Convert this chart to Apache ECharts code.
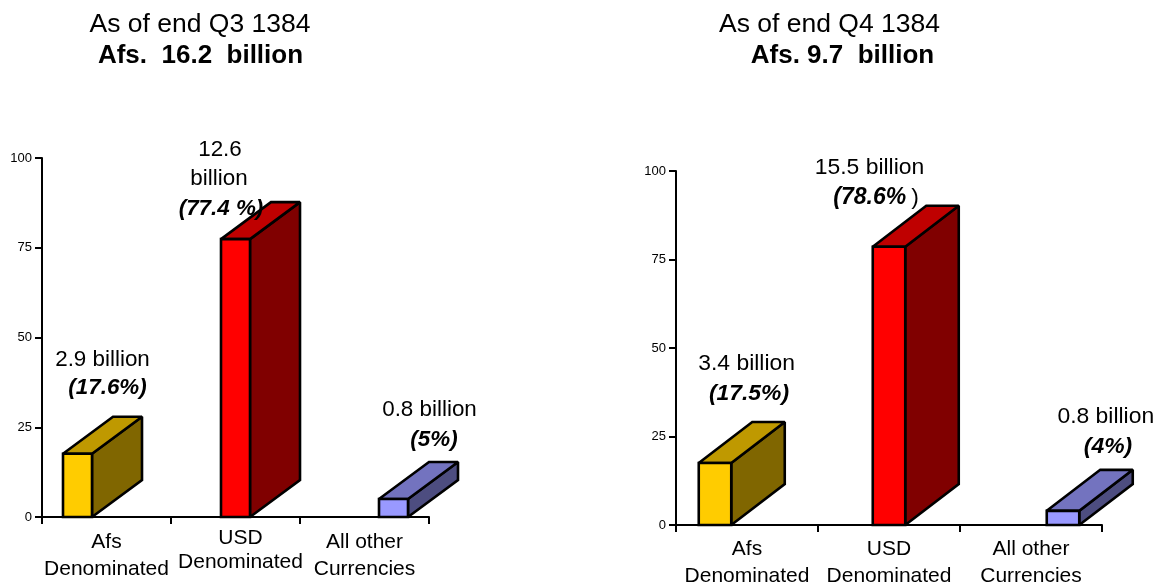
<!DOCTYPE html>
<html><head><meta charset="utf-8">
<script src="https://cdn.jsdelivr.net/npm/echarts@6/dist/echarts.min.js"></script>
<style>html,body{margin:0;padding:0;background:#fff}#c{width:1159px;height:585px}</style>
</head><body><div id="c"></div>
<script>
const yTicks = [0, 25, 50, 75, 100];
const categoriesQ3 = ['Afs\nDenominated', 'USD\nDenominated', 'All other\nCurrencies'];
const categoriesQ4 = ['Afs\nDenominated', 'USD\nDenominated', 'All other\nCurrencies'];
const sharesQ3 = [17.6, 77.4, 5];
const sharesQ4 = [17.5, 78.6, 4];
const amountLabelsQ3 = [['2.9 billion'], ['12.6', 'billion'], ['0.8 billion']];
const amountLabelsQ4 = [['3.4 billion'], ['15.5 billion'], ['0.8 billion']];
const shareLabelsQ3 = ['(17.6%)', '(77.4 %)', '(5%)'];
const shareLabelsQ4 = ['(17.5%)', '(78.6%', '(4%)'];

const FONT = '"Liberation Sans", Arial, sans-serif';
const palette = [
  { front: '#FFCC00', top: '#BF9900', side: '#806600' },
  { front: '#FF0000', top: '#BF0000', side: '#800000' },
  { front: '#9999FF', top: '#7373BF', side: '#4D4D80' }
];

function renderBar(cfg) {
  return function (params, api) {
    const i = api.value(0);
    const top = api.coord([i, api.value(1)]);
    const base = api.coord([i, 0]);
    const cx = top[0] + (i - 1) * cfg.spread;
    const x1 = cx - cfg.w / 2, x2 = cx + cfg.w / 2;
    const yT = top[1], yB = base[1];
    const c = palette[i];
    const stroke = { stroke: '#000', lineWidth: 2.6, lineJoin: 'miter', miterLimit: 2 };
    return {
      type: 'group',
      children: [
        { type: 'polygon', shape: { points: [[x2, yB], [x2 + cfg.dx, yB - cfg.dy], [x2 + cfg.dx, yT - cfg.dy], [x2, yT]] }, style: Object.assign({ fill: c.side }, stroke) },
        { type: 'polygon', shape: { points: [[x1, yT], [x1 + cfg.dx, yT - cfg.dy], [x2 + cfg.dx, yT - cfg.dy], [x2, yT]] }, style: Object.assign({ fill: c.top }, stroke) },
        { type: 'rect', shape: { x: x1, y: yT, width: cfg.w, height: yB - yT }, style: Object.assign({ fill: c.front }, stroke) }
      ]
    };
  };
}

function xAxisFor(gridIndex, cats, shiftUsd, margin) {
  return {
    type: 'category', gridIndex, data: cats,
    axisLine: { onZero: false, lineStyle: { color: '#000', width: 2 } },
    axisTick: { show: true, alignWithLabel: false, length: 7, lineStyle: { color: '#000', width: 2 } },
    axisLabel: {
      margin, interval: 0, color: '#000', fontFamily: FONT, fontSize: 21,
      formatter: function (v) {
        const p = v.split('\n');
        if (shiftUsd && v.indexOf('USD') === 0) return '{u|' + p[0] + '}\n{u|' + p[1] + '}';
        return '{n|' + p[0] + '}\n{n|' + p[1] + '}';
      },
      rich: {
        n: { fontFamily: FONT, fontSize: 21, color: '#000', lineHeight: 27, padding: shiftUsd ? [5, 0, 0, 0] : 0 },
        u: { fontFamily: FONT, fontSize: 21, color: '#000', lineHeight: 24, padding: [0, 0, 0, 10] }
      }
    }
  };
}
function yAxisFor(gridIndex) {
  return {
    type: 'value', gridIndex, min: yTicks[0], max: yTicks[yTicks.length - 1], interval: yTicks[1] - yTicks[0],
    splitLine: { show: false },
    axisLine: { show: true, lineStyle: { color: '#000', width: 2 } },
    axisTick: { show: true, length: 7, lineStyle: { color: '#000', width: 2 } },
    axisLabel: { margin: 10, color: '#000', fontFamily: FONT, fontSize: 13 }
  };
}

function txt(text, x, y, size, weight, style) {
  return { type: 'text', z: 50, x, y, style: { text, fill: '#000', font: (style || 'normal') + ' ' + (weight || 'normal') + ' ' + size + 'px ' + FONT, textAlign: 'center', textVerticalAlign: 'middle' } };
}
const labels = [
  txt(amountLabelsQ3[0][0], 102.5, 359.5, 22.4),
  txt(shareLabelsQ3[0], 107.5, 388, 22.4, 'bold', 'italic'),
  txt(amountLabelsQ3[1][0], 220, 150, 22.4),
  txt(amountLabelsQ3[1][1], 219, 179, 22.4),
  txt(shareLabelsQ3[1], 221, 209, 22.4, 'bold', 'italic'),
  txt(amountLabelsQ3[2][0], 429.5, 410, 22.4),
  txt(shareLabelsQ3[2], 434, 440, 22.4, 'bold', 'italic'),
  txt(amountLabelsQ4[0][0], 746.6, 364, 22.9),
  txt(shareLabelsQ4[0], 749, 394, 22.9, 'bold', 'italic'),
  txt(amountLabelsQ4[1][0], 869.5, 168, 22.9),
  txt(shareLabelsQ4[1], 869.7, 198, 23, 'bold', 'italic'),
  txt(')', 915, 198, 22.9),
  txt(amountLabelsQ4[2][0], 1105.8, 417, 22.9),
  txt(shareLabelsQ4[2], 1108, 447, 22.9, 'bold', 'italic')
];

function titleItem(text, cx, top, bold) {
  return { text, left: cx, top, textAlign: 'center', padding: 0,
    textStyle: { fontFamily: FONT, fontSize: bold ? 26 : 26.5, fontWeight: bold ? 'bold' : 'normal', color: '#000' } };
}

const chart = echarts.init(document.getElementById('c'), null, { renderer: 'canvas' });
chart.setOption({
  animation: false,
  backgroundColor: '#fff',
  title: [
    titleItem('As of end Q3 1384', 200, 11),
    titleItem('Afs.  16.2  billion', 200.5, 43, true),
    titleItem('As of end Q4 1384', 829.5, 11),
    titleItem('Afs. 9.7  billion', 842.5, 43, true)
  ],
  grid: [
    { left: 42, top: 158, width: 387, height: 359, outerBoundsMode: 'none' },
    { left: 676, top: 171, width: 426, height: 354, outerBoundsMode: 'none' }
  ],
  xAxis: [xAxisFor(0, categoriesQ3, true, 9), xAxisFor(1, categoriesQ4, false, 11)],
  yAxis: [yAxisFor(0), yAxisFor(1)],
  series: [
    { type: 'custom', xAxisIndex: 0, yAxisIndex: 0, clip: false, encode: { x: 0, y: 1 },
      data: sharesQ3.map((v, i) => [i, v]),
      renderItem: renderBar({ spread: 29, w: 29, dx: 50, dy: 37 }) },
    { type: 'custom', xAxisIndex: 1, yAxisIndex: 1, clip: false, encode: { x: 0, y: 1 },
      data: sharesQ4.map((v, i) => [i, v]),
      renderItem: renderBar({ spread: 32, w: 32.5, dx: 53.5, dy: 41 }) }
  ],
  graphic: { elements: labels }
});
</script>
</body></html>
